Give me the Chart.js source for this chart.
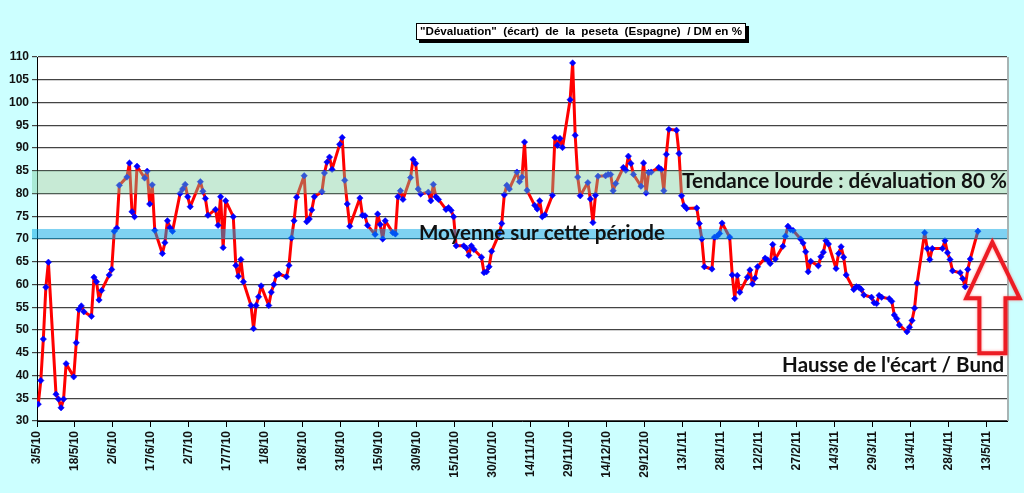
<!DOCTYPE html>
<html>
<head>
<meta charset="utf-8">
<script src="https://cdn.jsdelivr.net/npm/chart.js@4.4.1/dist/chart.umd.min.js"></script>
<style>
html, body { margin: 0; padding: 0; background: #ccffff; }
#wrap { width: 1024px; height: 493px; }
</style>
</head>
<body>
<div id="wrap"><canvas id="ecart" width="1024" height="493"></canvas></div>
<script>
// écart peseta / DM, one value per weekday, weeks starting Monday 3/5/10 (null = no quote)
var titleText = '"Dévaluation"  (écart)  de  la  peseta  (Espagne)  / DM en %';
var tickLabels = ["3/5/10", "18/5/10", "2/6/10", "17/6/10", "2/7/10", "17/7/10", "1/8/10", "16/8/10",
    "31/8/10", "15/9/10", "30/9/10", "15/10/10", "30/10/10", "14/11/10", "29/11/10", "14/12/10",
    "29/12/10", "13/1/11", "28/1/11", "12/2/11", "27/2/11", "14/3/11", "29/3/11", "13/4/11",
    "28/4/11", "13/5/11"];
var weeks = [
    [33.7, 38.9, 48.0, 59.4, 64.9],
    [35.9, 34.8, 32.9, 34.8, 42.6],
    [39.7, 47.2, 54.5, 55.3, 54.0],
    [53.0, 61.6, 60.6, 56.6, 58.7],
    [62.1, 63.3, 71.7, 72.4, 81.8],
    [83.6, 86.7, 76.0, 74.9, 86.0],
    [83.4, 84.9, 77.7, 81.9, 71.9],
    [66.8, 69.2, 74.0, 72.5, 71.7],
    [80.0, 81.0, 82.0, 79.3, 77.1],
    [null, 82.6, 80.5, 78.9, 75.2],
    [76.5, 73.0, 79.3, 68.1, 78.4],
    [74.9, 64.2, 61.8, 65.5, 60.6],
    [55.4, 50.3, 55.4, 57.3, 59.7],
    [55.4, 58.3, 60.0, 62.0, 62.3],
    [61.7, 64.2, 70.2, 74.0, 79.2],
    [83.9, 73.8, 74.4, 76.4, 79.3],
    [80.4, 84.5, 86.9, 88.0, 85.3],
    [90.8, 92.3, 82.9, 77.7, 72.8],
    [null, 79.0, 75.2, 75.1, 73.0],
    [71.0, 75.5, 73.2, 70.0, 74.0],
    [71.4, 71.1, 79.3, 80.6, 78.7],
    [83.5, 87.5, 86.6, 81.0, 79.9],
    [80.3, 78.4, 82.0, 79.3, 78.7],
    [76.5, 76.9, 76.3, 74.9, 68.5],
    [68.5, 68.0, 66.4, 68.5, 67.7],
    [66.0, 62.6, 62.8, 63.9, 67.3],
    [71.2, 73.4, 79.7, 81.8, 81.0],
    [84.7, 82.6, 83.6, 91.3, 80.7],
    [77.4, 76.6, 78.4, 74.9, 75.3],
    [79.6, 92.3, 90.6, 92.1, 90.1],
    [100.6, 108.7, 92.8, 83.6, 79.5],
    [82.4, 78.8, 73.6, 79.6, 83.8],
    [83.9, 84.2, 84.2, 80.6, 82.2],
    [85.7, 85.1, 88.2, 86.6, 84.2],
    [81.6, 86.7, 80.1, 84.6, 84.7],
    [85.7, 85.3, 80.6, 88.6, 94.1],
    [93.9, 88.8, 79.5, 77.3, 76.7],
    [null, 76.8, 73.4, 70.0, 63.9],
    [63.4, 70.4, 70.6, 71.2, 73.5],
    [70.4, 62.1, 56.9, 62.0, 58.3],
    [61.6, 63.2, 60.1, 61.4, 63.9],
    [65.8, 65.4, 64.6, 68.8, 65.6],
    [68.4, 70.6, 72.8, 72.1, 71.9],
    [70.0, 69.1, 67.2, 62.8, 65.1],
    [64.1, 66.1, 67.1, 69.6, 68.9],
    [63.5, 66.8, 68.3, 66.0, 62.1],
    [58.9, 59.5, 59.4, 58.9, 57.7],
    [57.2, 56.0, 55.8, 57.6, 57.2],
    [56.9, 56.3, 53.3, 52.5, 51.1],
    [49.6, 50.6, 52.1, 54.8, 60.3],
    [71.4, 67.9, 65.5, 67.9, null],
    [67.9, 69.6, 67.0, 65.5, 63.0],
    [62.6, 61.3, 59.5, 63.3, 65.6],
    [71.7]
];
var bandTrend = [80, 85];
var bandMean = [70, 72.2];

var points = [];
weeks.forEach(function (w, k) {
    w.forEach(function (v, i) {
        if (v !== null) points.push({ x: 7 * k + i + 0.5, y: v });
    });
});

function fitText(ctx, text, x0, x1, yc, weight, family) {
    ctx.font = weight + ' 20px ' + family;
    var size = 20 * (x1 - x0) / ctx.measureText(text).width;
    ctx.font = weight + ' ' + size.toFixed(2) + 'px ' + family;
    ctx.textAlign = 'left';
    ctx.textBaseline = 'middle';
    ctx.fillText(text, x0, yc);
}

var overlay = {
    id: 'overlay',
    beforeDraw: function (chart) {
        var ctx = chart.ctx, a = chart.chartArea;
        ctx.save();
        ctx.fillStyle = '#fff';
        ctx.fillRect(a.left, a.top, a.right - a.left, a.bottom - a.top);
        ctx.restore();
    },
    afterDatasetsDraw: function (chart) {
        var ctx = chart.ctx, a = chart.chartArea, xs = chart.scales.x, ys = chart.scales.y;
        ctx.save();
        // bands
        var g1 = ys.getPixelForValue(bandTrend[1]), g0 = ys.getPixelForValue(bandTrend[0]);
        ctx.fillStyle = 'rgba(122,205,155,0.42)';
        ctx.fillRect(a.left - 5, g1, a.right - a.left + 5, g0 - g1);
        var b1 = ys.getPixelForValue(bandMean[1]), b0 = ys.getPixelForValue(bandMean[0]);
        ctx.fillStyle = 'rgba(0,165,229,0.5)';
        ctx.fillRect(a.left - 5, b1, a.right - a.left + 5, b0 - b1);

        // plot right edge
        ctx.strokeStyle = '#a8b4b4';
        ctx.lineWidth = 2;
        ctx.beginPath();
        ctx.moveTo(a.right + 1, a.top);
        ctx.lineTo(a.right + 1, a.bottom);
        ctx.stroke();

        // labels
        ctx.fillStyle = '#111';
        var fam = 'Lato, "Open Sans", sans-serif';
        fitText(ctx, 'Tendance lourde : dévaluation 80 %', xs.getPixelForValue(254.7), xs.getPixelForValue(383),
            ys.getPixelForValue(82.6), 'bold', fam);
        fitText(ctx, 'Moyenne sur cette période', xs.getPixelForValue(150.8), xs.getPixelForValue(248),
            ys.getPixelForValue(71.3), 'bold', fam);
        fitText(ctx, "Hausse de l'écart / Bund", xs.getPixelForValue(294.2), xs.getPixelForValue(381.9),
            ys.getPixelForValue(42.3), 'bold', fam);

        // hollow arrow
        var px = function (d) { return xs.getPixelForValue(d); };
        var py = function (v) { return ys.getPixelForValue(v); };
        ctx.beginPath();
        ctx.moveTo(px(377.2), py(69.3));
        ctx.lineTo(px(388.0), py(57.0));
        ctx.lineTo(px(382.4), py(57.0));
        ctx.lineTo(px(382.4), py(44.9));
        ctx.lineTo(px(372.1), py(44.9));
        ctx.lineTo(px(372.1), py(57.0));
        ctx.lineTo(px(366.9), py(57.0));
        ctx.closePath();
        ctx.shadowColor = 'rgba(255,110,110,0.7)';
        ctx.shadowBlur = 3;
        ctx.strokeStyle = '#ec1c24';
        ctx.lineWidth = 4;
        ctx.lineJoin = 'miter';
        ctx.stroke();
        ctx.restore();
    },
    afterDraw: function (chart) {
        var ctx = chart.ctx;
        ctx.save();
        ctx.font = 'bold 20px "Liberation Sans", Arial, sans-serif';
        var size = 20 * 322 / ctx.measureText(titleText).width;
        ctx.font = 'bold ' + size.toFixed(2) + 'px "Liberation Sans", Arial, sans-serif';
        var w = 322;
        var cx = 581, top = 23, h = 17;
        var left = cx - w / 2 - 4;
        ctx.fillStyle = '#000';
        ctx.fillRect(left + 3, top + 3, w + 8, h);
        ctx.fillStyle = '#fff';
        ctx.fillRect(left, top, w + 8, h);
        ctx.strokeStyle = '#000';
        ctx.lineWidth = 1;
        ctx.strokeRect(left + 0.5, top + 0.5, w + 7, h - 1);
        ctx.fillStyle = '#000';
        ctx.textAlign = 'center';
        ctx.textBaseline = 'middle';
        ctx.fillText(titleText, cx, top + h / 2 + 0.5);
        ctx.restore();
    }
};

var tickFont = { family: '"Liberation Sans", Arial, sans-serif', size: 12, weight: 'bold' };

new Chart(document.getElementById('ecart'), {
    type: 'line',
    data: {
        datasets: [{
            data: points,
            borderColor: '#ff0000',
            borderWidth: 3,
            borderJoinStyle: 'round',
            tension: 0,
            pointStyle: 'rectRot',
            pointRadius: 3.2,
            pointBackgroundColor: '#0000ff',
            pointBorderColor: '#0000ff',
            pointBorderWidth: 0.5
        }]
    },
    options: {
        responsive: false,
        animation: false,
        devicePixelRatio: 1,
        layout: { padding: { top: 57, right: 17, left: 0, bottom: 0 } },
        plugins: { legend: { display: false }, tooltip: { enabled: false } },
        scales: {
            x: {
                type: 'linear',
                min: 0,
                max: 383,
                afterBuildTicks: function (s) {
                    s.ticks = s.ticks.filter(function (t) { return t.value % 15 === 0; });
                },
                afterFit: function (s) { s.height = 72; },
                ticks: {
                    stepSize: 15,
                    autoSkip: false,
                    minRotation: 90,
                    maxRotation: 90,
                    padding: 4,
                    color: '#111',
                    font: tickFont,
                    callback: function (v) { return tickLabels[v / 15]; }
                },
                grid: { drawOnChartArea: false, drawTicks: true, tickLength: 6, color: '#000' },
                border: { color: '#000', width: 1 }
            },
            y: {
                min: 30,
                max: 110,
                afterFit: function (s) { s.width = 37; },
                ticks: { stepSize: 5, padding: 3, color: '#111', font: tickFont },
                grid: { color: '#444', lineWidth: 1.2, tickLength: 5 },
                border: { color: '#000', width: 1 }
            }
        }
    },
    plugins: [overlay]
});
</script>
</body>
</html>
